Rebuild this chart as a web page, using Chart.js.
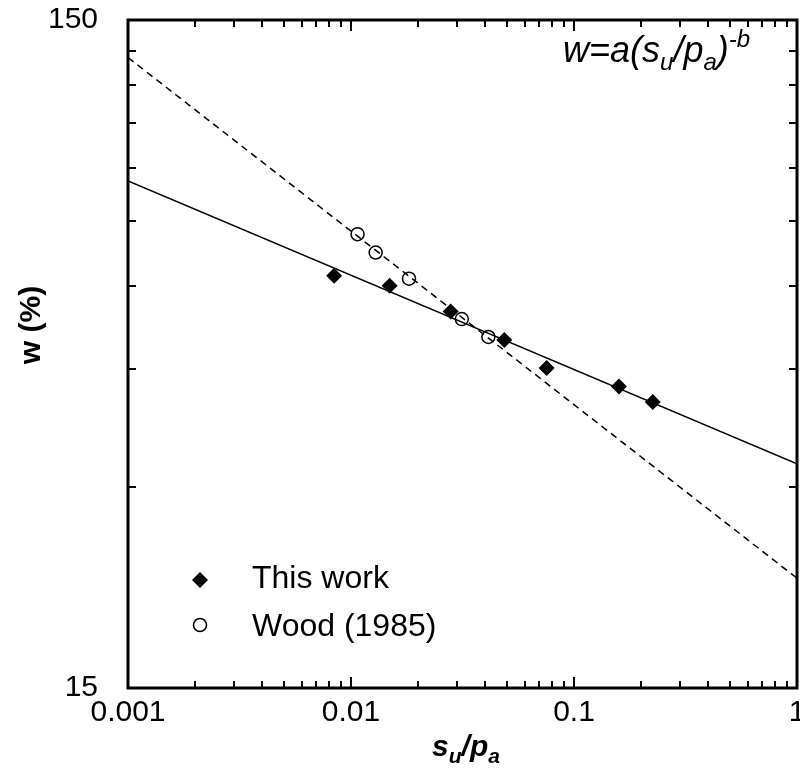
<!DOCTYPE html>
<html lang="en">
<head>
<meta charset="UTF-8"/>
<title>w vs su/pa</title>
<script src="https://cdn.jsdelivr.net/npm/chart.js"></script>
<style>
  body{margin:0;padding:0;background:#fff;}
  #wrap{width:800px;height:776px;}
</style>
</head>
<body>
<div id="wrap"><canvas id="c" width="800" height="776"></canvas></div>
<script>
  // This work (filled diamonds)
  const thisWorkX=[0.0084,0.0149,0.028,0.0487,0.0754,0.159,0.2255];
  const thisWorkW=[62.1,60.0,54.9,49.8,45.2,42.4,40.2];
  // Wood (1985) (open circles)
  const woodX=[0.0107,0.0129,0.0182,0.0314,0.0413];
  const woodW=[71.7,67.3,61.5,53.5,50.3];
  // fitted power lines, read at the plot edges
  const fitX=[0.001,1];
  const thisWorkFit=[86.1,32.5];
  const woodFit=[131.8,21.9];
  // tick labels and tick marks
  const xTickLabels=[0.001,0.01,0.1,1];
  const yTickLabels=[15,150];
  const xMajorTicks=[0.01,0.1];
  const xMinorTicks=[0.002,0.003,0.004,0.005,0.006,0.007,0.008,0.009,
                     0.02,0.03,0.04,0.05,0.06,0.07,0.08,0.09,
                     0.2,0.3,0.4,0.5,0.6,0.7,0.8,0.9];
  const yMinorTicks=[30,45,60,75,90,105,120,135];

  const FONT="'Liberation Sans', Arial, Helvetica, sans-serif";
  const pts=(xs,ys)=>xs.map((x,i)=>({x:x,y:ys[i]}));

  // text with sub/superscripts: [text,size,style,dy]
  function drawRich(ctx,parts,x,y,align){
    let w=0;
    parts.forEach(p=>{ctx.font=p[2]+' '+p[1]+'px '+FONT;w+=ctx.measureText(p[0]).width;});
    let cx=align==='center'?x-w/2:x;
    ctx.textAlign='left';ctx.textBaseline='alphabetic';
    parts.forEach(p=>{
      ctx.font=p[2]+' '+p[1]+'px '+FONT;
      ctx.fillText(p[0],cx,y+p[3]);
      cx+=ctx.measureText(p[0]).width;
    });
  }

  const framePlugin={
    id:'frame',
    afterDraw(chart){
      const ctx=chart.ctx,a=chart.chartArea,xs=chart.scales.x,ys=chart.scales.y;
      ctx.save();
      ctx.strokeStyle='#000';
      // ticks, pointing inward, on all four sides
      ctx.lineWidth=2;
      ctx.beginPath();
      const xt=(v,len)=>{const px=Math.round(xs.getPixelForValue(v));
        ctx.moveTo(px,a.bottom);ctx.lineTo(px,a.bottom-len);
        ctx.moveTo(px,a.top);ctx.lineTo(px,a.top+len);};
      const yt=(v,len)=>{const py=Math.round(ys.getPixelForValue(v));
        ctx.moveTo(a.left,py);ctx.lineTo(a.left+len,py);
        ctx.moveTo(a.right,py);ctx.lineTo(a.right-len,py);};
      xMinorTicks.forEach(v=>xt(v,7));
      xMajorTicks.forEach(v=>xt(v,11));
      yMinorTicks.forEach(v=>yt(v,8));
      ctx.stroke();
      // box
      ctx.lineWidth=3;
      ctx.strokeRect(a.left,a.top,a.right-a.left,a.bottom-a.top);

      ctx.fillStyle='#000';
      // axis titles
      drawRich(ctx,[['s',30,'italic bold',0],['u',21,'italic bold',7],['/',30,'italic bold',0],
                    ['p',30,'italic bold',0],['a',21,'italic bold',7]],466,756,'center');
      ctx.save();
      ctx.translate(40,325);ctx.rotate(-Math.PI/2);
      ctx.font='bold 30px '+FONT;ctx.textAlign='center';ctx.textBaseline='alphabetic';
      ctx.fillText('w (%)',0,0);
      ctx.restore();

      // equation
      drawRich(ctx,[['w=a(',36,'italic',0],['s',36,'italic',0],['u',24,'italic',8],['/p',36,'italic',0],
                    ['a',24,'italic',8],[')',36,'italic',0],['-b',24,'italic',-15]],563,62,'left');

      // legend
      ctx.beginPath();
      ctx.moveTo(200,572);ctx.lineTo(208,580);ctx.lineTo(200,588);ctx.lineTo(192,580);ctx.closePath();
      ctx.fill();
      ctx.lineWidth=1.5;
      ctx.beginPath();ctx.arc(200,625,6.5,0,Math.PI*2);ctx.stroke();
      ctx.font='32px '+FONT;ctx.textAlign='left';ctx.textBaseline='alphabetic';
      ctx.fillText('This work',252,588);
      ctx.fillText('Wood (1985)',252,636);
      ctx.restore();
    }
  };

  new Chart(document.getElementById('c'),{
    type:'scatter',
    data:{datasets:[
      {label:'This work',data:pts(thisWorkX,thisWorkW),pointStyle:'rectRot',pointRadius:8,
       backgroundColor:'#000',borderColor:'#000',borderWidth:0,showLine:false},
      {label:'Wood (1985)',data:pts(woodX,woodW),pointStyle:'circle',pointRadius:6.5,
       backgroundColor:'rgba(0,0,0,0)',borderColor:'#000',borderWidth:1.5,showLine:false},
      {label:'fit this work',data:pts(fitX,thisWorkFit),showLine:true,pointRadius:0,
       borderColor:'#000',borderWidth:1.5,fill:false},
      {label:'fit Wood',data:pts(fitX,woodFit),showLine:true,pointRadius:0,
       borderColor:'#000',borderWidth:1.5,borderDash:[7,5],fill:false}
    ]},
    options:{
      responsive:false,animation:false,devicePixelRatio:1,
      layout:{autoPadding:false,padding:{left:0,right:3,top:20,bottom:0}},
      plugins:{legend:{display:false},tooltip:{enabled:false}},
      scales:{
        x:{type:'logarithmic',min:0.001,max:1,
           grid:{display:false,drawTicks:false},border:{display:false},
           afterBuildTicks:s=>{s.ticks=xTickLabels.map(v=>({value:v}));},
           afterFit:s=>{s.height=88;s.paddingLeft=0;s.paddingRight=0;},
           ticks:{color:'#000',padding:7,maxRotation:0,autoSkip:false,
                  font:{family:FONT,size:30},callback:v=>String(v)}},
        y:{type:'logarithmic',min:15,max:150,
           grid:{display:false,drawTicks:false},border:{display:false},
           afterBuildTicks:s=>{s.ticks=yTickLabels.map(v=>({value:v}));},
           afterFit:s=>{s.width=128;s.paddingTop=0;s.paddingBottom=0;},
           ticks:{color:'#000',padding:30,autoSkip:false,
                  font:{family:FONT,size:30},callback:v=>String(v)}}
      }
    },
    plugins:[framePlugin]
  });
</script>
</body>
</html>
